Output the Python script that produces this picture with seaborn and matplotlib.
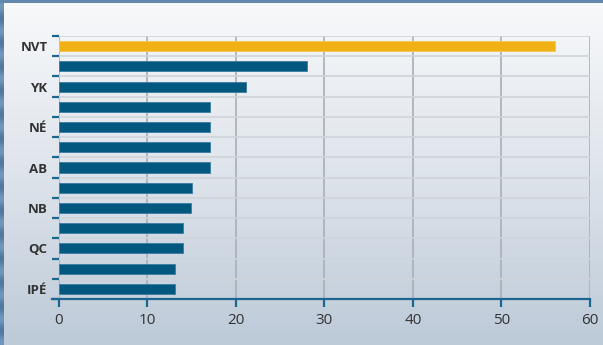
import numpy as np
import pandas as pd
import matplotlib
matplotlib.use("Agg")
import matplotlib.pyplot as plt
import seaborn as sns
from matplotlib.ticker import FixedLocator

# Values per row, top to bottom
values = [56.1, 28.0, 21.2, 17.1, 17.1, 17.1, 17.1, 15.1, 15.0, 14.1, 14.1, 13.1, 13.1]
# Only every other row carries a label
tick_labels = ["NVT", "", "YK", "", "NÉ", "", "AB", "", "NB", "", "QC", "", "IPÉ"]
highlight = [True] + [False] * 12
x_ticks = [0, 10, 20, 30, 40, 50, 60]

GOLD = "#f0b114"
BLUE = "#03587f"
AXIS_BLUE = "#1d6690"
TEXT = "#333333"

df = pd.DataFrame({
    "row": list(range(len(values))),
    "value": values,
    "kind": ["hi" if h else "base" for h in highlight],
})

sns.set_theme(style="white")
plt.rcParams["font.family"] = ["Open Sans", "DejaVu Sans"]

fig = plt.figure(figsize=(6.03, 3.45), dpi=100)

# Backdrop: pale panel fading to blue-grey, with a thin blue frame on top/left
bg = fig.add_axes([0, 0, 1, 1], zorder=-2)
top_c = np.array([248, 249, 251]) / 255
mid_c = np.array([222, 228, 235]) / 255
bot_c = np.array([189, 202, 216]) / 255
t = np.linspace(0, 1, 345)[:, None]
grad = np.where(t < 0.5,
                top_c + (mid_c - top_c) * (t / 0.5),
                mid_c + (bot_c - mid_c) * ((t - 0.5) / 0.5))
img = np.repeat(grad[:, None, :], 603, axis=1)
bg.imshow(img, extent=[0, 603, 345, 0], aspect="auto")
frame_rows = np.linspace(0, 1, 345)
frame = np.zeros((345, 4, 3))
frame[:] = (np.array([96, 135, 172]) / 255)[None, None, :]
frame[:, :, :] += (0.06 * np.sin(frame_rows * 90))[:, None, None]
bg.imshow(np.clip(frame, 0, 1), extent=[0, 4, 345, 0], aspect="auto")
bg.imshow(np.tile((np.array([96, 135, 172]) / 255)[None, None, :], (3, 603, 1)),
          extent=[0, 603, 3, 0], aspect="auto")
bg.set_xlim(0, 603)
bg.set_ylim(345, 0)
bg.axis("off")

ax = fig.add_axes([58.5 / 603, 1 - 299 / 345, (590 - 58.5) / 603, (299 - 36) / 345])
ax.set_facecolor("none")

sns.barplot(data=df, x="value", y="row", hue="kind", orient="h",
            palette={"hi": GOLD, "base": BLUE}, width=0.5, dodge=False,
            legend=False, ax=ax, linewidth=0.6, saturation=1)
for patch, h in zip(ax.patches, highlight):
    patch.set_edgecolor("#f6c650" if h else "#3a7ca3")

ax.set_xlim(0, 60)
ax.set_ylim(len(values) - 0.5, -0.5)
ax.set_xlabel("")
ax.set_ylabel("")

# Category labels
ax.set_yticks(range(len(values)))
ax.set_yticklabels(tick_labels, fontsize=9.5, fontweight="bold", color=TEXT)
ax.tick_params(axis="y", which="major", length=0, pad=8)

# Row boundaries: ticks and horizontal grid
bounds = np.arange(-0.5, len(values), 1.0)
ax.yaxis.set_minor_locator(FixedLocator(bounds))
ax.tick_params(axis="y", which="minor", length=5, width=1.6, color=AXIS_BLUE, left=True)
ax.grid(axis="y", which="minor", color="#cfd4da", linewidth=1.2)
ax.grid(axis="y", which="major", visible=False)

ax.set_xticks(x_ticks)
ax.set_xticklabels([str(v) for v in x_ticks], fontsize=11, color=TEXT)
ax.tick_params(axis="x", length=6, width=1.6, color=AXIS_BLUE, pad=4, bottom=True)
ax.grid(axis="x", color="#a9afb6", linewidth=1.2)
ax.set_axisbelow(True)

for s in ["top", "right", "left"]:
    ax.spines[s].set_visible(False)
ax.spines["bottom"].set_color(AXIS_BLUE)
ax.spines["bottom"].set_linewidth(1.6)
ax.spines["bottom"].set_bounds(-0.7, 60)

fig.savefig("out.png", dpi=100)
